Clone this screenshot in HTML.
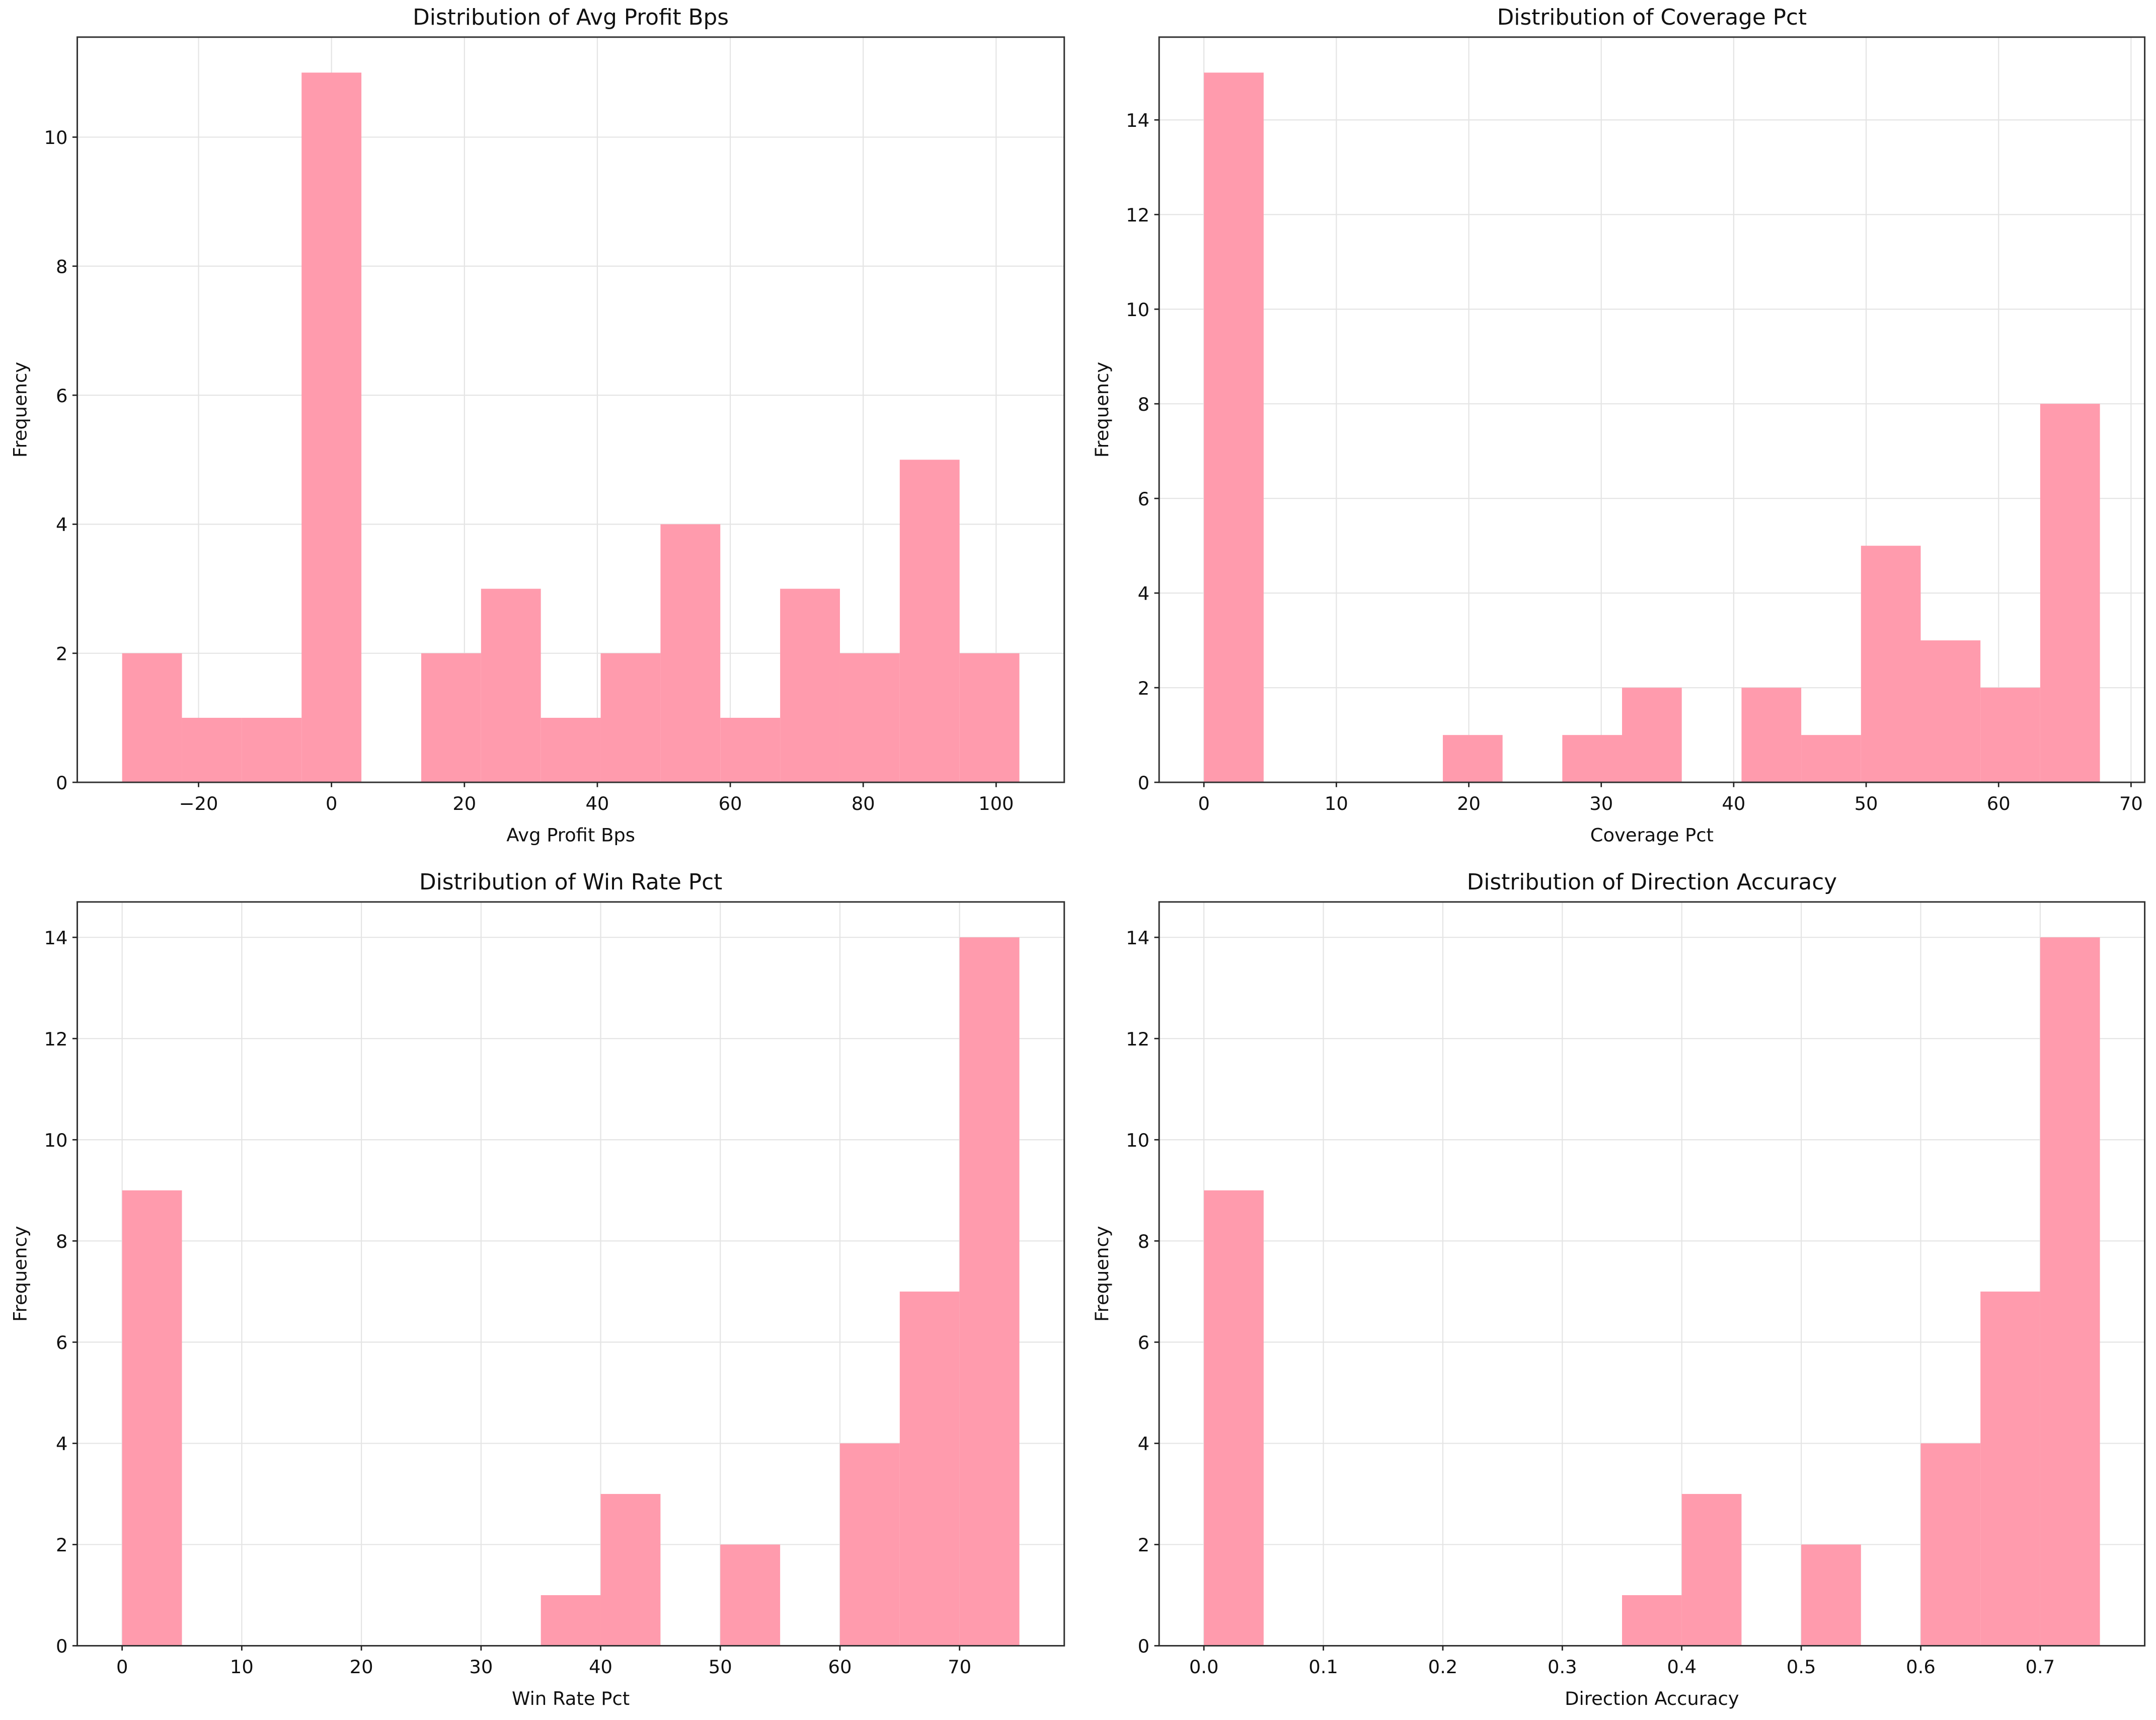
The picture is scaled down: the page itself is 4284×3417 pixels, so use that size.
<!DOCTYPE html>
<html><head><meta charset="utf-8"><style>
html,body{margin:0;padding:0;background:#fff;}
svg{display:block;}
text{font-family:"DejaVu Sans","Liberation Sans",sans-serif;fill:#111;}
</style></head><body>
<svg id="fig" width="4284" height="3417" viewBox="0 0 1568 1251" xmlns="http://www.w3.org/2000/svg"></svg>
<script>
// Panel 1: Avg Profit Bps
const p1Start = -31.5;
const p1Width = 9.0;
const p1Counts = [2,1,1,11,0,2,3,1,2,4,1,3,2,5,2];
const p1XTicks = [-20,0,20,40,60,80,100];
const p1YTicks = [0,2,4,6,8,10];
// Panel 2: Coverage Pct
const p2Start = 0;
const p2Width = 4.51;
const p2Counts = [15,0,0,0,1,0,1,2,0,2,1,5,3,2,8];
const p2XTicks = [0,10,20,30,40,50,60,70];
const p2YTicks = [0,2,4,6,8,10,12,14];
// Panel 3: Win Rate Pct
const p3Start = 0;
const p3Width = 5;
const p3Counts = [9,0,0,0,0,0,0,1,3,0,2,0,4,7,14];
const p3XTicks = [0,10,20,30,40,50,60,70];
const p3YTicks = [0,2,4,6,8,10,12,14];
// Panel 4: Direction Accuracy
const p4Start = 0;
const p4Width = 0.05;
const p4Counts = [9,0,0,0,0,0,0,1,3,0,2,0,4,7,14];
const p4XTicks = [0,0.1,0.2,0.3,0.4,0.5,0.6,0.7];
const p4YTicks = [0,2,4,6,8,10,12,14];

const NS = "http://www.w3.org/2000/svg";
const svg = document.getElementById('fig');
function mk(tag, attrs, parent){
  const e = document.createElementNS(NS, tag);
  for (const k in attrs) e.setAttribute(k, attrs[k]);
  (parent||svg).appendChild(e);
  return e;
}
function fmtMinus(s){ return String(s).replace('-', '\u2212'); }

function panel(box, start, width, counts, xticks, yticks, title, xlabel, dec, key){
  const g = mk('g', {});
  
  
  const n = counts.length;
  const lo = start, hi = start + width*n;
  const pad = (hi-lo)*0.05;
  const xmin = lo-pad, xmax = hi+pad;
  const ymax = Math.max(...counts)*1.05;
  const X = v => box.l + (v - xmin)/(xmax - xmin)*(box.r - box.l);
  const Y = v => box.b - v/ymax*(box.b - box.t);
  // grid
  xticks.forEach(t => {
    const l = mk('line', {x1:X(t), x2:X(t), y1:box.t, y2:box.b, stroke:'#e4e4e4', 'stroke-width':0.8}, g);
    
    
  });
  yticks.forEach(t => {
    const l = mk('line', {x1:box.l, x2:box.r, y1:Y(t), y2:Y(t), stroke:'#e4e4e4', 'stroke-width':0.8}, g);
    
    
  });
  // bars
  counts.forEach((c, i) => {
    if (c <= 0) return;
    const x0 = X(start + i*width), x1 = X(start + (i+1)*width);
    const r = mk('rect', {x:x0, y:Y(c), width:x1-x0, height:Y(0)-Y(c), fill:'#ff9bad'}, g);
    
    
  });
  // spines
  const sp = mk('rect', {x:box.l, y:box.t, width:box.r-box.l, height:box.b-box.t, fill:'none', stroke:'#333', 'stroke-width':1.1}, g);
  
  
  // x ticks
  xticks.forEach(t => {
    mk('line', {x1:X(t), x2:X(t), y1:box.b, y2:box.b+3.5, stroke:'#222', 'stroke-width':1}, g);
    const tx = mk('text', {x:X(t), y:box.b+20, 'font-size':13.5, 'text-anchor':'middle'}, g);
    tx.textContent = fmtMinus(dec ? t.toFixed(1) : t);
    
    
  });
  yticks.forEach(t => {
    mk('line', {x1:box.l-3.5, x2:box.l, y1:Y(t), y2:Y(t), stroke:'#222', 'stroke-width':1}, g);
    const tx = mk('text', {x:box.l-7, y:Y(t)+5, 'font-size':13.5, 'text-anchor':'end'}, g);
    tx.textContent = t;
    
    
  });
  const tt = mk('text', {x:(box.l+box.r)/2, y:box.t-9, 'font-size':16, 'text-anchor':'middle'}, g);
  tt.textContent = title;
  
  
  const xl = mk('text', {x:(box.l+box.r)/2, y:box.b+43, 'font-size':13.5, 'text-anchor':'middle'}, g);
  xl.textContent = xlabel;
  
  
  const cy = (box.t+box.b)/2;
  const yl = mk('text', {x:box.l-37, y:cy, 'font-size':13.5, 'text-anchor':'middle', transform:'rotate(-90 '+(box.l-37)+' '+cy+')'}, g);
  yl.textContent = 'Frequency';
  
  
}

panel({l:56,r:774,t:27,b:569}, p1Start, p1Width, p1Counts, p1XTicks, p1YTicks, 'Distribution of Avg Profit Bps', 'Avg Profit Bps', false, 'avg-profit');
panel({l:843,r:1560,t:27,b:569}, p2Start, p2Width, p2Counts, p2XTicks, p2YTicks, 'Distribution of Coverage Pct', 'Coverage Pct', false, 'coverage');
panel({l:56,r:774,t:656,b:1197}, p3Start, p3Width, p3Counts, p3XTicks, p3YTicks, 'Distribution of Win Rate Pct', 'Win Rate Pct', false, 'win-rate');
panel({l:843,r:1560,t:656,b:1197}, p4Start, p4Width, p4Counts, p4XTicks, p4YTicks, 'Distribution of Direction Accuracy', 'Direction Accuracy', true, 'direction-accuracy');
</script>
</body></html>
